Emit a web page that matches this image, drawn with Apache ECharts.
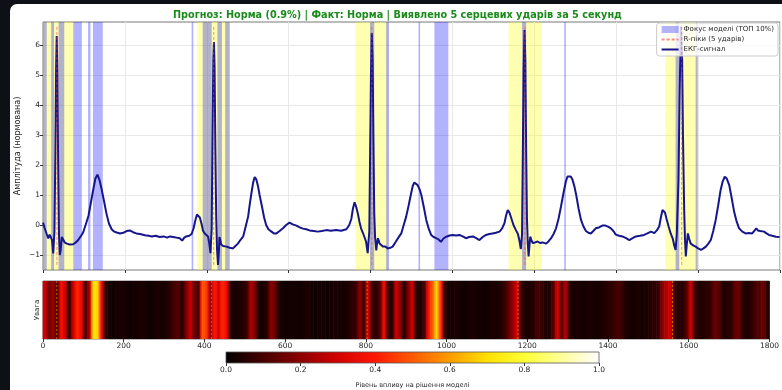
<!DOCTYPE html>
<html><head><meta charset="utf-8">
<script src="https://cdn.jsdelivr.net/npm/echarts@6/dist/echarts.min.js"></script>
<style>
html,body{margin:0;padding:0;background:#0d1117;width:782px;height:390px;overflow:hidden;}
#panel{position:absolute;left:10px;top:4px;width:800px;height:400px;background:#fff;border-radius:7px;}
#chart{position:absolute;left:0;top:0;width:782px;height:390px;}
</style></head><body>
<div id="panel"></div><div id="chart"></div>
<script>
// ---- data ----
const titleText = 'Прогноз: Норма (0.9%) | Факт: Норма | Виявлено 5 серцевих ударів за 5 секунд';
const ecgName = 'ЕКГ-сигнал';
const rName = 'R-піки (5 ударів)';
const focusName = 'Фокус моделі (ТОП 10%)';

const ecgPoints = [
[0,0.08],[4,-0.1],[9,-0.3],[13,-0.45],[16,-0.32],[19,-0.4],[22,-0.5],[25,-0.95],[28,-0.2],[30,2.2],[32,5.2],[33.5,6.3],[35,5.2],[37,2.0],[39,-0.3],[41,-1.0],[43,-0.85],[46,-0.4],[49,-0.42],[53,-0.58],[58,-0.62],[65,-0.65],[74,-0.64],[80,-0.58],[86,-0.5],[92,-0.38],[98,-0.25],[104,0.0],[111,0.3],[117,0.75],[123,1.2],[128,1.55],[133,1.68],[138,1.5],[143,1.2],[149,0.8],[155,0.38],[161,0.05],[168,-0.15],[174,-0.22],[180,-0.25],[188,-0.28],[196,-0.26],[204,-0.2],[212,-0.18],[220,-0.24],[228,-0.28],[237,-0.3],[249,-0.34],[258,-0.36],[266,-0.38],[275,-0.36],[285,-0.4],[295,-0.38],[303,-0.42],[310,-0.38],[318,-0.4],[326,-0.42],[334,-0.44],[340,-0.52],[345,-0.42],[350,-0.38],[357,-0.36],[363,-0.3],[368,-0.1],[372,0.15],[376,0.35],[379,0.41],[383,0.25],[387,0.05],[391,-0.2],[395,-0.28],[399,-0.32],[403,-0.38],[406,-0.6],[409,-0.94],[412,-0.1],[414,3.0],[416,5.5],[417.5,6.1],[419,5.3],[421,2.5],[423,0.3],[425,-0.8],[427.5,-1.33],[429.5,-0.9],[431,-0.4],[433,-0.5],[435,-0.65],[440,-0.7],[448,-0.72],[456,-0.76],[464,-0.78],[470,-0.7],[476,-0.62],[482,-0.5],[489,-0.38],[495,-0.05],[501,0.28],[505,0.7],[509,1.06],[513,1.4],[517,1.6],[521,1.52],[525,1.3],[529,1.0],[535,0.6],[540,0.25],[545,0.0],[551,-0.15],[558,-0.22],[564,-0.28],[570,-0.28],[578,-0.2],[586,-0.11],[594,0.0],[602,0.08],[610,0.02],[619,-0.02],[627,-0.08],[635,-0.12],[643,-0.14],[651,-0.18],[661,-0.2],[671,-0.22],[681,-0.2],[692,-0.17],[703,-0.19],[716,-0.17],[728,-0.19],[741,-0.14],[748,0.0],[753,0.2],[757,0.55],[761,0.76],[765,0.6],[769,0.38],[773,0.1],[777,-0.12],[781,-0.25],[785,-0.3],[789,-0.55],[793,-0.94],[797,-0.2],[799,2.5],[801,5.0],[803,6.4],[805,5.5],[807,2.8],[809,0.4],[811,-0.4],[814,-0.85],[816,-0.6],[818,-0.44],[820,-0.52],[822,-0.62],[826,-0.66],[830,-0.72],[836,-0.72],[842,-0.78],[848,-0.76],[854,-0.72],[858,-0.66],[862,-0.55],[868,-0.42],[875,-0.28],[881,0.0],[887,0.28],[893,0.65],[899,1.05],[903,1.3],[907,1.42],[911,1.4],[915,1.33],[920,1.18],[924,1.0],[930,0.6],[936,0.17],[942,-0.12],[948,-0.33],[954,-0.4],[960,-0.44],[966,-0.48],[972,-0.56],[978,-0.45],[985,-0.39],[993,-0.35],[1001,-0.33],[1009,-0.35],[1017,-0.33],[1025,-0.38],[1033,-0.44],[1041,-0.4],[1050,-0.38],[1058,-0.44],[1066,-0.5],[1074,-0.4],[1082,-0.33],[1090,-0.3],[1098,-0.28],[1106,-0.26],[1115,-0.22],[1121,-0.12],[1127,0.06],[1131,0.32],[1135,0.5],[1139,0.42],[1143,0.26],[1149,0.0],[1155,-0.17],[1160,-0.3],[1164,-0.55],[1167,-0.8],[1170,-0.3],[1172,2.5],[1174,5.2],[1176,6.5],[1178,5.5],[1180,2.5],[1182,0.2],[1184,-0.6],[1186,-1.05],[1188,-0.7],[1190,-0.39],[1193,-0.5],[1196,-0.6],[1202,-0.58],[1208,-0.55],[1214,-0.6],[1220,-0.58],[1229,-0.62],[1235,-0.54],[1241,-0.44],[1247,-0.3],[1253,-0.11],[1259,0.2],[1265,0.61],[1271,1.05],[1277,1.45],[1281,1.62],[1285,1.67],[1289,1.62],[1293,1.52],[1298,1.28],[1302,1.02],[1308,0.55],[1314,0.17],[1320,-0.05],[1326,-0.2],[1332,-0.26],[1338,-0.28],[1344,-0.2],[1350,-0.11],[1358,-0.08],[1366,-0.02],[1374,-0.02],[1381,-0.06],[1387,-0.11],[1393,-0.2],[1399,-0.32],[1407,-0.36],[1415,-0.38],[1424,-0.44],[1432,-0.5],[1440,-0.44],[1448,-0.38],[1458,-0.36],[1468,-0.33],[1476,-0.28],[1485,-0.22],[1493,-0.27],[1499,-0.18],[1505,-0.05],[1509,0.25],[1513,0.5],[1516,0.56],[1519,0.42],[1523,0.2],[1528,-0.05],[1533,-0.28],[1538,-0.45],[1542,-0.7],[1545,-0.83],[1548,-0.3],[1552,1.5],[1555,4.5],[1558,6.63],[1561,5.5],[1563,3.0],[1566,0.5],[1568,-0.5],[1570,-1.05],[1572,-0.7],[1575,-0.28],[1578,-0.45],[1582,-0.62],[1588,-0.68],[1594,-0.72],[1600,-0.78],[1607,-0.83],[1613,-0.78],[1619,-0.72],[1625,-0.62],[1631,-0.5],[1637,-0.2],[1643,0.17],[1649,0.65],[1655,1.17],[1660,1.45],[1665,1.61],[1670,1.55],[1676,1.33],[1682,0.9],[1688,0.44],[1694,0.12],[1700,-0.11],[1708,-0.22],[1716,-0.28],[1724,-0.27],[1732,-0.28],[1737,-0.2],[1742,-0.11],[1746,-0.18],[1752,-0.2],[1761,-0.22],[1767,-0.28],[1773,-0.33],[1781,-0.36],[1790,-0.39],[1799,-0.4]
];

const rPeaks = [34, 417, 803, 1177, 1560];
const rWindow = 40; // samples each side of an R-peak (yellow zones)

const focusSpans = [[0,9],[20,27],[38,52],[74,95],[110,116],[122,146],[363,367],[390,412],[426,437],[445,456],[799,809],[838,845],[917,921],[956,990],[1170,1180],[1273,1277],[1545,1554],[1594,1599]];

const attentionBin = 10;
const attention = [
0.30,0.15,0.22,0.10,0.38,0.30,0.05,0.30,0.42,0.35,
0.08,0.25,0.72,0.68,0.35,0.06,0.03,0.02,0.03,0.04,
0.03,0.02,0.03,0.03,0.04,0.03,0.02,0.03,0.04,0.03,
0.04,0.06,0.10,0.12,0.05,0.18,0.28,0.15,0.10,0.50,
0.45,0.20,0.40,0.30,0.42,0.35,0.06,0.03,0.04,0.05,
0.08,0.25,0.18,0.04,0.03,0.06,0.20,0.15,0.04,0.03,
0.02,0.03,0.03,0.02,0.03,0.04,0.03,0.02,0.03,0.03,
0.02,0.03,0.04,0.03,0.03,0.04,0.06,0.08,0.20,0.08,
0.32,0.10,0.05,0.12,0.38,0.08,0.05,0.30,0.20,0.05,
0.18,0.30,0.06,0.04,0.10,0.38,0.50,0.68,0.45,0.08,
0.03,0.03,0.04,0.03,0.02,0.03,0.04,0.03,0.03,0.02,
0.03,0.04,0.03,0.05,0.08,0.15,0.22,0.32,0.08,0.04,
0.04,0.05,0.10,0.08,0.04,0.05,0.12,0.32,0.12,0.26,
0.06,0.03,0.04,0.03,0.03,0.04,0.03,0.03,0.04,0.05,
0.06,0.08,0.10,0.08,0.04,0.03,0.03,0.04,0.03,0.04,
0.05,0.06,0.08,0.20,0.26,0.30,0.08,0.05,0.06,0.12,
0.30,0.10,0.04,0.05,0.06,0.08,0.15,0.12,0.05,0.05,
0.06,0.14,0.15,0.05,0.04,0.06,0.10,0.12,0.15,0.05
];

const yTicks = [-1,0,1,2,3,4,5,6];
const hotStops = ['#000000','#460000','#8c0000','#d20000','#ff1700','#ff5a00','#ff9d00','#ffe000','#ffff36','#ffff9b','#ffffff'];

// ---- chart ----
const FONT = 'DejaVu Sans';
const TXT = '#262626';
const chart = echarts.init(document.getElementById('chart'), null, {renderer:'canvas'});

// colormap lookup (hot), linear between stops
const stopRGB = hotStops.map(h => [parseInt(h.substr(1,2),16), parseInt(h.substr(3,2),16), parseInt(h.substr(5,2),16)]);
function hotColor(v) {
  v = Math.max(0, Math.min(1, v));
  const p = v * (stopRGB.length - 1);
  const i = Math.min(Math.floor(p), stopRGB.length - 2);
  const t = p - i;
  const c = stopRGB[i].map((a, k) => Math.round(a + (stopRGB[i + 1][k] - a) * t));
  return 'rgb(' + c.join(',') + ')';
}

const ecgYs = ecgPoints.map(p => p[1]);
const ecgMin = Math.min.apply(null, ecgYs), ecgMax = Math.max.apply(null, ecgYs);
const rLineData = [];
rPeaks.forEach(r => { rLineData.push([r, ecgMin], [r, ecgMax], [r, '-']); });
const rHeatData = [];
rPeaks.forEach(r => { rHeatData.push([r, 0], [r, 1], [r, '-']); });
const yellowData = rPeaks.map(r => [Math.max(0, r - rWindow), Math.min(1800, r + rWindow)]);
const heatData = attention.map((v, i) => [i * attentionBin, (i + 1) * attentionBin, v, i]);

function spanRender(fill) {
  return function (params, api) {
    const cs = params.coordSys;
    const a = api.coord([api.value(0), 0])[0];
    const b = api.coord([api.value(1), 0])[0];
    return {type:'rect', shape:{x:a, y:cs.y, width:Math.max(b - a, 0.8), height:cs.height},
            style:{fill: fill}};
  };
}
function heatRender(params, api) {
  const cs = params.coordSys;
  const a = api.coord([api.value(0), 0])[0];
  const b = api.coord([api.value(1), 0])[0];
  const i = api.value(3);
  const v = attention[i];
  const vl = i > 0 ? (attention[i - 1] + v) / 2 : v;
  const vr = i < attention.length - 1 ? (attention[i + 1] + v) / 2 : v;
  const grad = new echarts.graphic.LinearGradient(0, 0, 1, 0, [
    {offset:0, color: hotColor(vl)}, {offset:0.5, color: hotColor(v)}, {offset:1, color: hotColor(vr)}]);
  return {type:'rect', shape:{x:a - 0.3, y:cs.y, width:(b - a) + 0.6, height:cs.height}, style:{fill: grad}};
}

const option = {
  animation: false,
  backgroundColor: 'transparent',
  title: {text: titleText, left: 168, top: 5,
    textStyle: {color:'#1a8a1a', fontSize: 9.7, fontWeight:'bold', fontFamily: FONT}},
  legend: {
    data: [
      {name: focusName, icon:'rect', itemStyle:{color:'rgba(0,0,255,0.3)'}},
      {name: rName, itemStyle:{color:'rgba(0,0,0,0)', opacity:0, borderWidth:0}},
      {name: ecgName, itemStyle:{color:'rgba(0,0,0,0)', opacity:0, borderWidth:0}}],
    orient:'vertical', right: 4, top: 23, itemWidth: 17, itemHeight: 7, itemGap: 3,
    selectedMode: false,
    textStyle: {fontSize: 7, color: TXT, fontFamily: FONT},
    backgroundColor: 'rgba(255,255,255,0.8)', borderColor: '#cccccc', borderWidth: 1, borderRadius: 3,
    padding: [3, 4, 3, 4]
  },
  grid: [
    {left:43, right:2, top:22, height:248, show:true, borderColor:'#555', borderWidth:0.8, backgroundColor:'transparent'},
    {left:43, right:2, top:281, height:58, show:true, borderColor:'#555', borderWidth:0.8, backgroundColor:'transparent'},
    {left:226, width:373, top:352, height:12, show:false}
  ],
  xAxis: [
    {gridIndex:0, type:'value', min:0, max:1800, interval:200,
      axisLine:{show:false, onZero:false}, axisTick:{show:true, length:3, lineStyle:{color:'#333'}},
      axisLabel:{show:false}, splitLine:{show:true, lineStyle:{color:'#e8e8e8', width:1}}},
    {gridIndex:1, type:'value', min:0, max:1800, interval:200,
      axisLine:{show:false, onZero:false}, axisTick:{show:true, length:3, lineStyle:{color:'#333'}},
      axisLabel:{show:true, fontSize:7.5, color:TXT, margin:3, fontFamily:FONT, formatter: v => String(v)},
      splitLine:{show:false}},
    {gridIndex:2, type:'value', min:0, max:1, interval:0.2,
      axisLine:{show:false, onZero:false}, axisTick:{show:true, length:3, lineStyle:{color:'#333'}},
      axisLabel:{show:true, fontSize:7.5, color:TXT, margin:3, fontFamily:FONT, formatter: v => v.toFixed(1)},
      splitLine:{show:false},
      name:'Рівень впливу на рішення моделі', nameLocation:'middle', nameGap:19, nameMoveOverlap:false,
      nameTextStyle:{fontSize:6.5, color:TXT, fontFamily:FONT}}
  ],
  yAxis: [
    {gridIndex:0, type:'value', min:-1.5, max:6.77,
      axisLine:{show:false},
      axisTick:{show:true, length:3, customValues:yTicks, lineStyle:{color:'#333'}},
      axisLabel:{show:true, customValues:yTicks, fontSize:7.5, color:TXT, margin:3, fontFamily:FONT,
        formatter: v => (v < 0 ? '\u2212' + Math.abs(v) : String(v))},
      splitLine:{show:true, lineStyle:{color:'#e8e8e8', width:1}},
      name:'Амплітуда (нормована)', nameLocation:'middle', nameGap:21, nameMoveOverlap:false,
      nameTextStyle:{fontSize:8, color:TXT, fontFamily:FONT}},
    {gridIndex:1, type:'value', min:0, max:1,
      axisLine:{show:false}, axisTick:{show:false}, axisLabel:{show:false}, splitLine:{show:false},
      name:'Увага', nameLocation:'middle', nameGap:2,
      nameTextStyle:{fontSize:7, color:TXT, fontFamily:FONT}},
    {gridIndex:2, type:'value', min:0, max:1, show:false}
  ],
  series: [
    {type:'custom', name:'rzones', xAxisIndex:0, yAxisIndex:0, data: yellowData,
      encode:{x:[0,1]}, renderItem: spanRender('rgba(255,255,0,0.3)'), silent:true, z:1},
    {type:'custom', name: focusName, xAxisIndex:0, yAxisIndex:0, data: focusSpans,
      encode:{x:[0,1]}, renderItem: spanRender('rgba(0,0,255,0.3)'), silent:true, z:1,
      itemStyle:{color:'rgba(0,0,255,0.3)'}},
    {type:'line', name: ecgName, xAxisIndex:0, yAxisIndex:0, data: ecgPoints,
      showSymbol:false, symbol:'none', lineStyle:{color:'#16168c', width:2}, itemStyle:{color:'#16168c'}, z:3},
    {type:'line', name: rName, xAxisIndex:0, yAxisIndex:0, data: rLineData,
      showSymbol:false, symbol:'none', connectNulls:false,
      lineStyle:{color:'rgba(255,60,60,0.6)', width:1, type:[3,2]}, itemStyle:{color:'rgba(255,60,60,0.6)'}, z:4},
    {type:'custom', name:'attention', xAxisIndex:1, yAxisIndex:1, data: heatData,
      encode:{x:[0,1]}, renderItem: heatRender, silent:true, z:1},
    {type:'line', name:'rheat', xAxisIndex:1, yAxisIndex:1, data: rHeatData,
      showSymbol:false, symbol:'none', connectNulls:false,
      lineStyle:{color:'rgba(255,170,0,0.6)', width:1, type:[2,2]}, z:3},
    {type:'custom', name:'colorbar', xAxisIndex:2, yAxisIndex:2, data:[[0,1]],
      encode:{x:[0,1]}, silent:true,
      renderItem: function (params, api) {
        const cs = params.coordSys;
        const a = api.coord([api.value(0), 0])[0];
        const b = api.coord([api.value(1), 0])[0];
        return {type:'rect', shape:{x:a, y:cs.y, width:b - a, height:cs.height},
          style:{fill: new echarts.graphic.LinearGradient(0,0,1,0,
            hotStops.map((c, i) => ({offset: i / (hotStops.length - 1), color: c}))),
            stroke:'#555', lineWidth:0.8}};
      }}
  ]
};
chart.setOption(option);
</script>
</body></html>
